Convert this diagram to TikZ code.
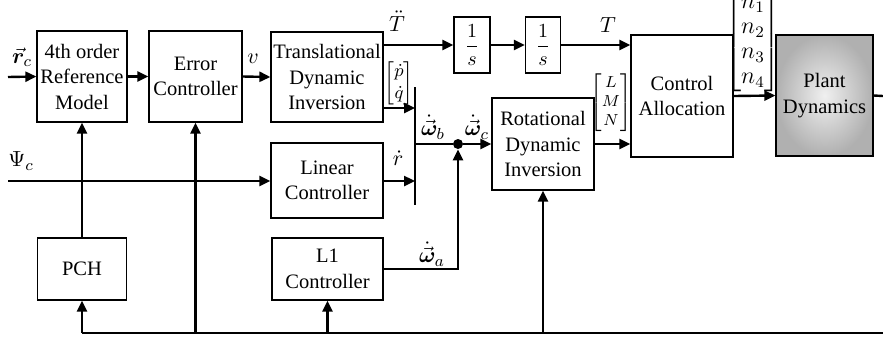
\documentclass[tikz,border=0pt]{standalone}
\usepackage{amsmath,bm}
\usepackage{fontspec}
\setmainfont{Liberation Serif}
\usetikzlibrary{arrows.meta}
\begin{document}
\begin{tikzpicture}[x=0.5pt,y=-0.5pt,
  blk/.style={draw, line width=0.6pt, align=center, inner sep=0pt, font=\fontsize{10.25}{12.75}\selectfont},
  sig/.style={line width=1.2pt, -{Triangle[length=5.5pt,width=5pt]}},
  wire/.style={line width=1.2pt},
  lbl/.style={inner sep=0pt, font=\fontsize{11}{13}\selectfont},
  dot/.style={circle, fill=black, inner sep=0pt, minimum size=5pt}]
\useasboundingbox (0,0) rectangle (883,339);
% blocks
\node[blk, minimum width=45pt, minimum height=45.5pt] (rm) at (82,76.5) {4th order\\Reference\\Model};
\node[blk, minimum width=46.5pt, minimum height=45.5pt] (ec) at (195.5,76.5) {Error\\Controller};
\node[blk, minimum width=56pt, minimum height=45pt] (tdi) at (327,77) {Translational\\Dynamic\\Inversion};
\node[blk, minimum width=56pt, minimum height=37.5pt] (lc) at (327,180.5) {Linear\\Controller};
\node[blk, minimum width=55.5pt, minimum height=31pt] (l1) at (327.5,269) {L1\\Controller};
\node[blk, minimum width=44.5pt, minimum height=31pt] (pch) at (82,269) {PCH};
\node[blk, minimum width=18pt, minimum height=28pt] (s1) at (472,45) {$\dfrac{1}{s}$};
\node[blk, minimum width=17.5pt, minimum height=28pt] (s2) at (543,45) {$\dfrac{1}{s}$};
\node[blk, minimum width=51pt, minimum height=46pt] (rdi) at (543,144) {Rotational\\Dynamic\\Inversion};
\node[blk, minimum width=51pt, minimum height=61pt] (ca) at (682,96) {Control\\Allocation};
\node[blk, minimum width=48.5pt, minimum height=60.5pt, shading=radial, inner color=gray!12, outer color=gray!62] (pd) at (824.5,95.5) {Plant\\Dynamics};
% coordinates
\coordinate (rin) at (8,77);
\coordinate (psin) at (8,181);
\coordinate (bartop) at (415,87);
\coordinate (barbot) at (415,205);
\coordinate (bp) at (415,108);
\coordinate (br) at (415,181);
\coordinate (jb) at (415,144);
\node[dot] (j) at (458,144) {};
\coordinate (pout) at (883,96);
\coordinate (bl) at (82,333);
\coordinate (bre) at (883,333);
% connectors
\draw[sig] (rin) -- (rm.west);
\draw[sig] (rm.east) -- (ec.west);
\draw[sig] (ec.east) -- (tdi.west);
\draw[sig] (psin) -- (lc.west |- psin);
\draw[sig] (tdi.east |- s1.west) -- (s1.west);
\draw[sig] (s1.east) -- (s2.west);
\draw[sig] (s2.east) -- (ca.west |- s2.east);
\draw[wire] (bartop) -- (barbot);
\draw[sig] (tdi.east |- bp) -- (bp);
\draw[sig] (lc.east |- br) -- (br);
\draw[wire] (jb) -- (j);
\draw[sig] (j) -- (rdi.west);
\draw[sig, line join=miter] (l1.east) -| (j.south);
\draw[sig] (rdi.east) -- (ca.west |- rdi.east);
\draw[sig] (ca.east) -- (pd.west);
\draw[wire] (pd.east) -- (pout);
\draw[wire] (bl) -- (bre);
\draw[sig] (bl) -- (pch.south);
\draw[sig] (pch.north) -- (rm.south);
\draw[sig] (ec.south |- bl) -- (ec.south);
\draw[sig] (l1.south |- bl) -- (l1.south);
\draw[sig] (rdi.south |- bl) -- (rdi.south);
% labels
\node[lbl] (lrc) at (22,57) {$\vec{\boldsymbol{r}}_c$};
\node[lbl] (lpsi) at (21,161) {$\Psi_c$};
\node[lbl] (lv) at (253,59) {$v$};
\node[lbl] (ltdd) at (397,21) {$\ddot{T}$};
\node[lbl] (lt) at (608,25) {$T$};
\node[lbl, font=\fontsize{9.5}{11}\selectfont] (lpq) at (399,83) {$\begin{bmatrix}\dot p\\ \dot q\end{bmatrix}$};
\node[lbl] (lr) at (398,158) {$\dot r$};
\node[lbl] (lwb) at (433,127) {$\dot{\vec{\boldsymbol{\omega}}}_b$};
\node[lbl] (lwc) at (477,127) {$\dot{\vec{\boldsymbol{\omega}}}_c$};
\node[lbl] (lwa) at (432,254) {$\dot{\vec{\boldsymbol{\omega}}}_a$};
\node[lbl, font=\fontsize{8}{9.5}\selectfont] (llmn) at (611,103) {$\begin{bmatrix}L\\ M\\ N\end{bmatrix}$};
\node[lbl, font=\fontsize{11.5}{12.5}\selectfont] (ln) at (753,41) {$\begin{bmatrix}n_1\\ n_2\\ n_3\\ n_4\end{bmatrix}$};
\end{tikzpicture}
\end{document}
